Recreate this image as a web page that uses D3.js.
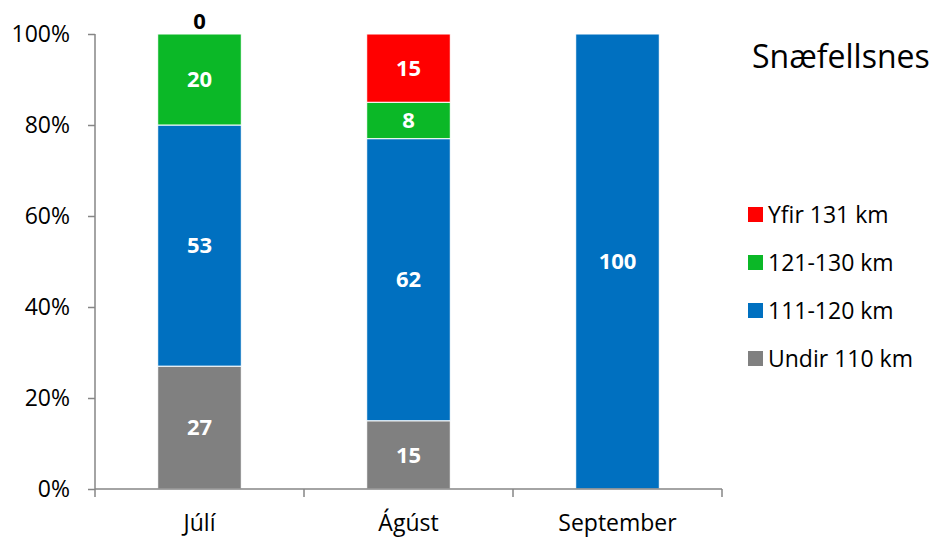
<!DOCTYPE html>
<html>
<head>
<meta charset="utf-8">
<script src="https://cdn.jsdelivr.net/npm/d3@7"></script>
<style>
  body { margin: 0; background: #fff; }
  text { font-family: "Open Sans", Lato, sans-serif; }
</style>
</head>
<body>
<div id="chart"></div>
<script>
// data
var months = ["Júlí", "Ágúst", "September"];
var seriesNames = ["Undir 110 km", "111-120 km", "121-130 km", "Yfir 131 km"];
var undir110 = [27, 15, 0];
var km111_120 = [53, 62, 100];
var km121_130 = [20, 8, 0];
var yfir131 = [0, 15, 0];
var yTicks = [0, 20, 40, 60, 80, 100];
var title = "Snæfellsnes";

var colors = d3.scaleOrdinal()
    .domain(seriesNames)
    .range(["#808080", "#0070C0", "#0BB827", "#FF0000"]);

var width = 936, height = 538;
var margin = {top: 34, left: 95, right: 214, bottom: 49};
var fontSize = 23;

var svg = d3.select("#chart").append("svg")
    .attr("width", width)
    .attr("height", height);

var rows = months.map(function(m, i) {
    return {month: m, "Undir 110 km": undir110[i], "111-120 km": km111_120[i],
            "121-130 km": km121_130[i], "Yfir 131 km": yfir131[i]};
});

var stack = d3.stack().keys(seriesNames);
var layers = stack(rows);

var x = d3.scaleBand()
    .domain(months)
    .range([margin.left, width - margin.right])
    .paddingInner(0.6)
    .paddingOuter(0.3);

var y = d3.scaleLinear()
    .domain([0, 100])
    .range([height - margin.bottom, margin.top]);

// y axis
var yAxis = svg.append("g")
    .attr("transform", "translate(" + margin.left + ",0)")
    .call(d3.axisLeft(y).tickValues(yTicks).tickSize(7).tickPadding(18)
        .tickFormat(function(d) { return d + "%"; }));
yAxis.selectAll("path, line").attr("stroke", "#868686").attr("stroke-width", 1.5);
yAxis.select(".domain").attr("d", "M0," + y(100) + "V" + y(0));
yAxis.selectAll("text").attr("font-size", fontSize).attr("fill", "#000")
    .style("font-family", "'Open Sans', sans-serif");

// bars
var layerG = svg.selectAll(".layer")
    .data(layers)
    .enter().append("g")
    .attr("class", "layer")
    .attr("fill", function(d) { return colors(d.key); });

layerG.selectAll("rect")
    .data(function(d) { return d; })
    .enter().append("rect")
    .attr("x", function(d) { return x(d.data.month); })
    .attr("width", x.bandwidth())
    .attr("y", function(d) { return y(d[1]); })
    .attr("height", function(d) { return y(d[0]) - y(d[1]); })
    .attr("stroke", "#fff")
    .attr("stroke-width", function(d) { return d[1] > d[0] ? 1 : 0; });

// segment labels
layerG.selectAll(".lbl")
    .data(function(d) { return d; })
    .enter().append("text")
    .attr("class", "lbl")
    .filter(function(d) { return d[1] - d[0] > 0; })
    .attr("x", function(d) { return x(d.data.month) + x.bandwidth() / 2; })
    .attr("y", function(d) { return (y(d[0]) + y(d[1])) / 2; })
    .attr("dy", "0.35em")
    .attr("text-anchor", "middle")
    .attr("font-size", 22)
    .attr("font-weight", "bold")
    .attr("fill", "#fff")
    .text(function(d) { return d[1] - d[0]; });

// zero label above Júlí bar
svg.append("text")
    .attr("x", x(months[0]) + x.bandwidth() / 2)
    .attr("y", y(100) - 13)
    .attr("dy", "0.35em")
    .attr("text-anchor", "middle")
    .attr("font-size", 22)
    .attr("font-weight", "bold")
    .attr("fill", "#000")
    .text(yfir131[0]);

// x axis
var xAxisG = svg.append("g")
    .attr("transform", "translate(0," + y(0) + ")");
xAxisG.append("line")
    .attr("x1", margin.left).attr("x2", width - margin.right)
    .attr("stroke", "#868686").attr("stroke-width", 1.5);
var bounds = months.map(function(m) { return x(m) - x.step() * 0.3; });
bounds.push(width - margin.right);
xAxisG.selectAll(".xtick")
    .data(bounds)
    .enter().append("line")
    .attr("x1", function(d) { return d; })
    .attr("x2", function(d) { return d; })
    .attr("y1", 0).attr("y2", 8)
    .attr("stroke", "#868686").attr("stroke-width", 1.5);
xAxisG.selectAll(".xlbl")
    .data(months)
    .enter().append("text")
    .attr("x", function(d) { return x(d) + x.bandwidth() / 2; })
    .attr("y", 42)
    .attr("text-anchor", "middle")
    .attr("font-size", fontSize)
    .attr("fill", "#000")
    .text(function(d) { return d; });

// title
svg.append("text")
    .attr("x", 752)
    .attr("y", 68)
    .attr("font-size", 32)
    .attr("fill", "#000")
    .text(title);

// legend
var legendItems = seriesNames.slice().reverse();
var legend = svg.selectAll(".legend")
    .data(legendItems)
    .enter().append("g")
    .attr("class", "legend")
    .attr("transform", function(d, i) {
        return "translate(748," + (207 + 48 * i) + ")";
    });
legend.append("rect")
    .attr("width", 15).attr("height", 15)
    .attr("fill", function(d) { return colors(d); });
legend.append("text")
    .attr("x", 20)
    .attr("y", 8)
    .attr("dy", "0.35em")
    .attr("font-size", fontSize)
    .attr("fill", "#000")
    .text(function(d) { return d; });
</script>
</body>
</html>
